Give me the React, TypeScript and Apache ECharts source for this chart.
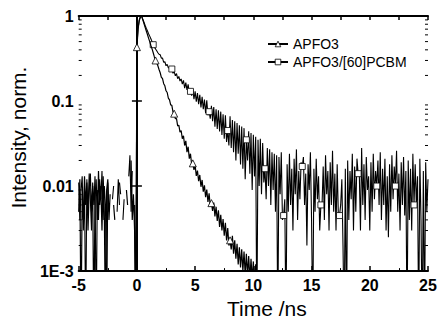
import React, { useEffect, useRef } from 'react';
import * as echarts from 'echarts';

// sampling grid of the decay traces (ns)
const TIME_START = -5;
const TIME_STEP = 0.1;

// APFO3 (normalised PL intensity), one value per sample from -5 ns; the trace
// drops below the 1E-3 floor at ~10.4 ns and is not visible afterwards
const APFO3: (number | null)[] = [
  0.005, 0.012, 0.0002, 0.008, 0.004, 0.013, 0.006, 0.011, 0.003, 0.009,
  0.014, 0.005, 0.01, 0.0002, 0.007, 0.012, 0.004, 0.015, 0.006, 0.01,
  0.003, 0.013, 0.005, 0.0002, 0.009, 0.012, 0.004, 0.008, null, null,
  0.006, 0.004, null, null, null, 0.011, 0.008, null, null, null,
  null, 0.009, 0.006, null, null, 0.02, 0.004, 0.008, 0.003, 0.0002,
  0.43, 0.7, 0.88, 0.97, 1.0, 0.91, 0.82, 0.74, 0.67, 0.61,
  0.55, 0.5, 0.45, 0.41, 0.37, 0.33, 0.30, 0.28, 0.26, 0.235,
  0.215, 0.19, 0.184, 0.16, 0.151, 0.132, 0.126, 0.108, 0.103, 0.09,
  0.089, 0.074, 0.071, 0.062, 0.062, 0.051, 0.052, 0.043, 0.045, 0.036,
  0.039, 0.03, 0.034, 0.025, 0.029, 0.021, 0.024, 0.018, 0.0185, 0.0155,
  0.0175, 0.0132, 0.0152, 0.0114, 0.0135, 0.0098, 0.0118, 0.0086, 0.0102, 0.0074,
  0.0091, 0.0065, 0.0082, 0.0058, 0.0063, 0.0051, 0.0064, 0.0044, 0.0057, 0.0039,
  0.0052, 0.0033, 0.0046, 0.003, 0.0041, 0.0026, 0.0037, 0.0023, 0.0032, 0.002,
  0.0023, 0.0018, 0.0026, 0.0016, 0.0023, 0.0014, 0.0021, 0.0012, 0.0019, 0.0011,
  0.0018, 0.001, 0.0017, 0.0009, 0.0016, 0.0009, 0.0015, 0.0008, 0.0014, 0.0008,
  0.0013, 0.0007, 0.0012, 0.0006, 0.0009,
];

// APFO3/[60]PCBM (normalised PL intensity), one value per sample from -5 ns
const APFO3_PCBM: (number | null)[] = [
  0.011, 0.004, 0.009, 0.013, 0.003, 0.01, 0.0002, 0.012, 0.005, 0.014,
  0.007, 0.003, 0.011, 0.006, 0.013, 0.0002, 0.009, 0.004, 0.012, 0.007,
  0.015, 0.004, 0.01, 0.006, 0.0002, 0.011, 0.005, null, null, 0.007,
  0.01, null, null, 0.005, 0.012, 0.006, null, null, 0.004, 0.007,
  null, null, null, 0.013, 0.023, 0.005, 0.015, null, 0.006, 0.0002,
  0.45, 0.72, 0.9, 0.98, 1.0, 0.92, 0.85, 0.78, 0.72, 0.67,
  0.62, 0.58, 0.54, 0.5, 0.46, 0.43, 0.41, 0.39, 0.37, 0.355,
  0.35, 0.32, 0.32, 0.285, 0.29, 0.26, 0.27, 0.245, 0.25, 0.228,
  0.238, 0.212, 0.222, 0.198, 0.21, 0.183, 0.195, 0.172, 0.182, 0.158,
  0.175, 0.142, 0.165, 0.135, 0.157, 0.124, 0.13, 0.116, 0.137, 0.105,
  0.13, 0.098, 0.124, 0.092, 0.118, 0.084, 0.112, 0.08, 0.104, 0.072,
  0.102, 0.068, 0.075, 0.062, 0.088, 0.058, 0.085, 0.05, 0.08, 0.047,
  0.078, 0.044, 0.075, 0.04, 0.07, 0.036, 0.068, 0.033, 0.045, 0.03,
  0.066, 0.028, 0.06, 0.025, 0.058, 0.02, 0.055, 0.024, 0.052, 0.018,
  0.05, 0.016, 0.048, 0.012, 0.035, 0.02, 0.044, 0.014, 0.042, 0.009,
  0.04, 0.013, 0.038, 0.0002, 0.035, 0.01, 0.036, 0.008, 0.032, 0.011,
  0.016, 0.007, 0.028, 0.01, 0.027, 0.006, 0.025, 0.009, 0.024, 0.005,
  0.023, 0.0002, 0.022, 0.008, 0.025, 0.004, 0.0045, 0.007, 0.0002, 0.018,
  0.005, 0.024, 0.006, 0.016, 0.003, 0.021, 0.008, 0.027, 0.004, 0.015,
  0.007, 0.019, 0.017, 0.022, 0.006, 0.014, 0.002, 0.018, 0.009, 0.025,
  0.004, 0.0002, 0.016, 0.005, 0.021, 0.007, 0.013, 0.003, 0.006, 0.006,
  0.017, 0.004, 0.023, 0.008, 0.015, 0.003, 0.019, 0.006, 0.026, 0.005,
  0.014, 0.003, 0.018, 0.0045, 0.0045, 0.006, 0.012, 0.002, 0.0002, 0.016,
  0.0002, 0.02, 0.004, 0.015, 0.007, 0.024, 0.003, 0.017, 0.005, 0.021,
  0.014, 0.014, 0.003, 0.028, 0.006, 0.018, 0.004, 0.022, 0.009, 0.013,
  0.003, 0.019, 0.005, 0.024, 0.007, 0.015, 0.01, 0.02, 0.006, 0.025,
  0.004, 0.016, 0.006, 0.021, 0.003, 0.013, 0.0025, 0.018, 0.005, 0.023,
  0.007, 0.017, 0.01, 0.026, 0.005, 0.014, 0.003, 0.019, 0.006, 0.022,
  0.0045, 0.015, 0.0002, 0.02, 0.004, 0.016, 0.003, 0.024, 0.006, 0.018,
  0.006, 0.013, 0.0002, 0.021, 0.004, 0.0002, 0.015, 0.0002, 0.019, 0.005,
  0.012,
];

// sample indices that carry a marker symbol
const APFO3_MARKS = [50, 66, 82, 98, 114, 130];
const PCBM_MARKS = [64, 80, 96, 112, 128, 144, 160, 176, 192, 208, 224, 240, 256, 272, 288];

const SERIES_NAMES = ['APFO3', 'APFO3/[60]PCBM'];

const X_MIN = -5;
const X_MAX = 25;
const X_INTERVAL = 5;
const Y_MIN = 0.001;
const Y_MAX = 1;
const Y_TICK_LABELS = ['1E-3', '0.01', '0.1', '1'];
const Y_DECADES = [0.001, 0.01, 0.1];
const Y_MINOR_MULT = [2, 3, 4, 5, 6, 7, 8, 9];

const FONT = 'Liberation Sans, Arial, Helvetica, sans-serif';

export default function App() {
  const ref = useRef<HTMLDivElement>(null);

  useEffect(() => {
    if (!ref.current) return;
    const chart = echarts.init(ref.current, null, { renderer: 'svg' });

    const toPairs = (arr: (number | null)[]) =>
      arr.map((v, i) => [Math.round((TIME_START + i * TIME_STEP) * 10) / 10, v === null ? '-' : v]);

    const minorTicks = Y_DECADES.flatMap((d) => Y_MINOR_MULT.map((m) => [X_MIN, m * d]));

    const axisLine = { show: true, lineStyle: { color: '#000', width: 2 } };
    const markerStyle = { color: '#fff', borderColor: '#000', borderWidth: 0.8 };

    const option: any = {
      animation: false,
      grid: { left: 72, right: 13, top: 16, bottom: 42, containLabel: false },
      legend: {
        orient: 'vertical',
        left: 267,
        top: 37,
        padding: 0,
        itemWidth: 20,
        itemHeight: 7,
        itemGap: 4,
        data: SERIES_NAMES.map((name) => ({ name, itemStyle: markerStyle })),
        textStyle: { fontFamily: FONT, fontSize: 14, color: '#000' },
      },
      xAxis: [
        {
          type: 'value',
          min: X_MIN,
          max: X_MAX,
          interval: X_INTERVAL,
          position: 'bottom',
          axisLine,
          axisTick: { inside: true, length: 5, lineStyle: { color: '#000', width: 1.5 } },
          minorTick: { show: true, splitNumber: 2, length: 3, lineStyle: { color: '#000', width: 1 } },
          splitLine: { show: false },
          axisLabel: { fontFamily: FONT, fontSize: 16, fontWeight: 'bold', color: '#000', margin: 6 },
          name: 'Time /ns',
          nameLocation: 'middle',
          nameGap: 22,
          nameTextStyle: { fontFamily: FONT, fontSize: 21, color: '#000', padding: [0, 0, 0, 27] },
        },
        {
          type: 'value',
          min: X_MIN,
          max: X_MAX,
          interval: X_INTERVAL,
          position: 'top',
          axisLine,
          axisTick: { inside: true, length: 4, lineStyle: { color: '#000', width: 1.5 } },
          minorTick: { show: true, splitNumber: 2, length: 4, lineStyle: { color: '#000', width: 1.5 } },
          splitLine: { show: false },
          axisLabel: { show: false },
        },
      ],
      yAxis: [
        {
          type: 'log',
          logBase: 10,
          min: Y_MIN,
          max: Y_MAX,
          position: 'left',
          axisLine,
          axisTick: { inside: true, length: 5, lineStyle: { color: '#000', width: 1.5 } },
          splitLine: { show: false },
          axisLabel: {
            fontFamily: FONT,
            fontSize: 16,
            fontWeight: 'bold',
            color: '#000',
            margin: 5,
            formatter: (v: number) => Y_TICK_LABELS[Math.round(Math.log10(v)) + 3] ?? '',
          },
          name: 'Intensity, norm.',
          nameLocation: 'middle',
          nameGap: 37,
          nameTextStyle: { fontFamily: FONT, fontSize: 21, color: '#000', padding: [0, 0, 0, 12] },
        },
        {
          type: 'log',
          logBase: 10,
          min: Y_MIN,
          max: Y_MAX,
          position: 'right',
          axisLine,
          axisTick: { inside: true, length: 5, lineStyle: { color: '#000', width: 1.5 } },
          splitLine: { show: false },
          axisLabel: { show: false },
        },
      ],
      series: [
        {
          name: SERIES_NAMES[0],
          type: 'line',
          xAxisIndex: 0,
          yAxisIndex: 0,
          data: toPairs(APFO3),
          symbol: 'triangle',
          showSymbol: true,
          showAllSymbol: true,
          symbolSize: (_v: any, p: any) => (APFO3_MARKS.includes(p.dataIndex) ? 7 : 0),
          lineStyle: { color: '#000', width: 1.2 },
          itemStyle: markerStyle,
          emphasis: { disabled: true },
          connectNulls: false,
          z: 3,
        },
        {
          name: SERIES_NAMES[1],
          type: 'line',
          xAxisIndex: 0,
          yAxisIndex: 0,
          data: toPairs(APFO3_PCBM),
          symbol: 'rect',
          showSymbol: true,
          showAllSymbol: true,
          symbolSize: (_v: any, p: any) => (PCBM_MARKS.includes(p.dataIndex) ? 6 : 0),
          lineStyle: { color: '#000', width: 1.1 },
          itemStyle: markerStyle,
          emphasis: { disabled: true },
          connectNulls: false,
          z: 2,
        },
        {
          type: 'custom',
          xAxisIndex: 0,
          yAxisIndex: 0,
          silent: true,
          data: minorTicks,
          renderItem: (_params: any, api: any) => {
            const v = api.value(1);
            const l = api.coord([X_MIN, v]);
            const r = api.coord([X_MAX, v]);
            return {
              type: 'group',
              children: [
                { type: 'line', shape: { x1: l[0], y1: l[1], x2: l[0] + 3, y2: l[1] }, style: { stroke: '#000', lineWidth: 1 } },
                { type: 'line', shape: { x1: r[0] - 3, y1: r[1], x2: r[0], y2: r[1] }, style: { stroke: '#000', lineWidth: 1 } },
              ],
            };
          },
          z: 5,
        },
      ],
    };

    chart.setOption(option);
    return () => chart.dispose();
  }, []);

  return (
    <div
      ref={ref}
      style={{ position: 'fixed', left: 0, top: 0, width: 441, height: 324, background: '#fff' }}
    />
  );
}
